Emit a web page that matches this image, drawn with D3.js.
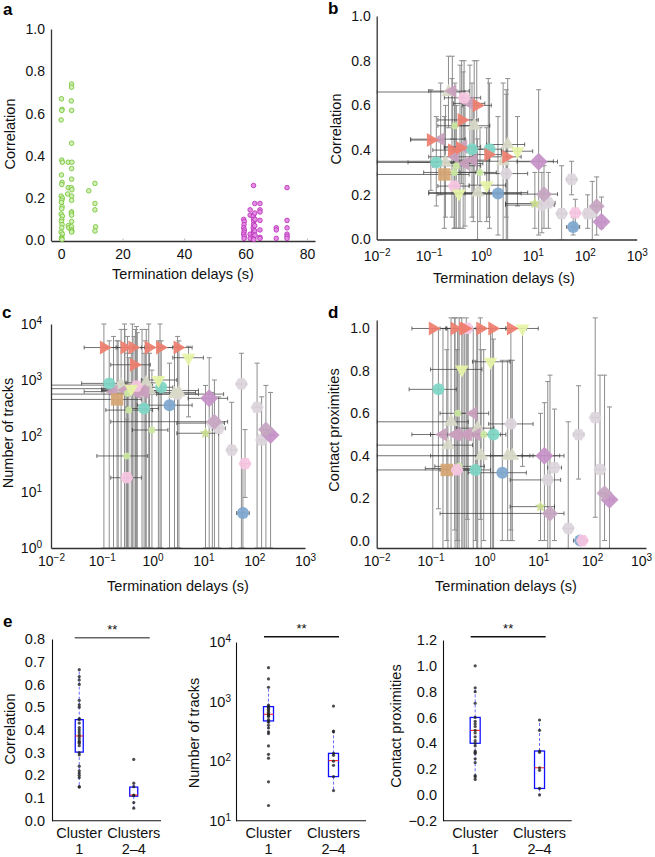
<!DOCTYPE html>
<html><head><meta charset="utf-8">
<script src="https://cdn.jsdelivr.net/npm/d3@7"></script>
<style>
body{margin:0;background:#fff;}
svg{display:block;font-family:"Liberation Sans",Arial,Helvetica,sans-serif;}
</style></head><body>
<svg id="fig" width="655" height="857"></svg>
<script>
// ================= DATA =================
// Panel a: termination delay (s) vs correlation
const aGreenX = [0.1,0.3,0.2,0.0,0.2,0.4,0.1,0.3,0.2,0.0,0.4,0.2,0.1,0.3,0.2,0.0,0.4,0.2,0.1,0.3,0.2,0.0,0.4,0.2,0.1,0.3,
  2.3,2.3,2.1,2.3,2.5,
  3.4,3.4,3.3,3.4,3.4,3.5,3.4,3.4,3.3,3.5,3.4,3.4,3.4,3.3,3.4,3.4,3.4,3.3,3.5,3.4,
  9.0, 11,11,11,11.2,11];
const aGreenY = [0.67,0.62,0.615,0.57,0.38,0.37,0.31,0.275,0.265,0.21,0.2,0.19,0.18,0.16,0.15,0.125,0.115,0.1,0.09,0.075,0.06,0.04,0.03,0.015,0.01,0.005,
  0.37,0.25,0.22,0.07,0.06,
  0.74,0.725,0.66,0.615,0.46,0.37,0.34,0.29,0.25,0.24,0.21,0.19,0.135,0.13,0.12,0.09,0.065,0.05,0.045,0.04,
  0.235, 0.27,0.175,0.145,0.065,0.045];
const aMagX = [59.4,59.6,59.5,59.4,59.6,59.5,59.4,59.6,59.5,
  61.5,61.5,61.5,61.5,
  62.6,62.6,62.5,62.6,62.7,62.6,62.5,62.6,62.7,62.6,62.5,62.6,62.7,
  63.0,63.0,63.1,63.0,63.0,63.1,
  64.7,64.7,64.7,64.7,64.7,64.7,64.7,
  70,70,70, 73.5,73.5,73.5,73.5,73.5,73.5];
const aMagY = [0.1,0.09,0.075,0.06,0.05,0.04,0.03,0.02,0.01,
  0.145,0.12,0.03,0.01,
  0.26,0.12,0.115,0.1,0.09,0.075,0.06,0.05,0.04,0.03,0.02,0.01,0.005,
  0.175,0.13,0.1,0.07,0.045,0.025,
  0.175,0.145,0.135,0.095,0.05,0.015,0.01,
  0.06,0.05,0.01, 0.25,0.095,0.06,0.03,0.02,0.01];

// Panels b-d: one entry per condition (marker group), shared termination delays
const entGroup = [
  'hexGrey','hexGrey','hexGrey','hexGrey','hexGrey','hexGrey','hexGrey',
  'triUpGrey','triUpGrey','triUpGrey','triUpGrey','triUpGrey','triUpGrey',
  'triLeftMauve','triLeftMauve','triLeftMauve','triLeftMauve','triLeftMauve','triLeftMauve','triLeftMauve',
  'dotGreen','dotGreen','dotGreen','dotGreen',
  'squareTan',
  'circleTeal','circleTeal','circleTeal',
  'circleBlue','circleBlue',
  'hexPink','hexPink','hexPink',
  'triDownYellow','triDownYellow','triDownYellow',
  'triRightRed','triRightRed','triRightRed','triRightRed','triRightRed','triRightRed','triRightRed',
  'diamondPurple','diamondPurple',
  'diamondMauve','diamondMauve',
  'star'];
const delay   = [3.1,56,15,20,36,114,140, 0.24,0.75,3.3,0.21,0.87,2.7, 0.285,0.62,0.17,0.46,0.32,0.50,0.72, 0.32,0.34,0.97,0.31, 0.2, 0.14,0.68,1.48, 2.15,60, 0.48,0.31,66, 5.1,1.3,0.38, 0.11,0.28,0.40,0.43,0.84,1.4,3.1, 13,210, 16.5,170, 11];
const delayLo = [1.2,45,3,15,30,100,120, 0.01,0.3,1.3,0.01,0.1,0.01, 0.1,0.3,0.045,0.2,0.1,0.2,0.35, 0.15,0.12,0.4,0.08, 0.01, 0.04,0.3,0.8, 0.5,45, 0.2,0.15,55, 2.5,0.6,0.1, 0.045,0.12,0.2,0.15,0.45,0.7,1.3, 5,180, 0.15,150, 3];
const delayHi = [8,70,26,27,44,130,165, 0.5,1.5,7,0.6,8,25, 0.6,1.2,0.5,1,0.8,1.1,1.5, 0.7,1,2,0.8, 0.6, 0.3,1.3,2.5, 6,80, 1,0.6,80, 10,3,0.9, 0.19,0.6,0.8,0.9,1.6,2.5,6, 30,250, 30,200, 20];

const corr   = [0.295,0.269,0.154,0.164,0.116,0.116,0.12, 0.66,0.509,0.425,0.345,0.21,0.35, 0.664,0.609,0.449,0.415,0.37,0.34,0.355, 0.509,0.33,0.30,0.30, 0.291, 0.345,0.404,0.404, 0.206,0.056, 0.634,0.239,0.119, 0.395,0.243,0.206, 0.445,0.40,0.41,0.535,0.60,0.38,0.37, 0.348,0.079, 0.203,0.149, 0.161];
const corrLo = [0,0.2,0.03,0.05,0,0.05,0, 0.5,0.2,0,0.1,0,0, 0.45,0.3,0.2,0.05,0.05,0.06,0.08, 0.3,0.05,0.08,0.05, 0.05, 0.15,0.1,0.05, 0.02,0.02, 0.45,0.05,0.05, 0.15,0.08,0.05, 0.22,0.1,0.05,0.25,0.3,0.1,0.1, 0.02,0.05, 0.05,0.02, 0.05];
const corrHi = [0.67,0.35,0.3,0.3,0.33,0.2,0.26, 0.82,0.8,0.72,0.6,0.45,0.7, 0.82,0.78,0.7,0.75,0.67,0.62,0.62, 0.7,0.6,0.5,0.6, 0.55, 0.55,0.7,0.7, 0.55,0.1, 0.8,0.45,0.18, 0.55,0.5,0.4, 0.67,0.72,0.78,0.8,0.8,0.72,0.65, 0.67,0.19, 0.33,0.28, 0.3];

const tracks   = [560,850,170,137,56,325,85, 810,890,600,700,650,560, 660,640,620,620,660,600,600, 580,290,128,44, 450, 870,310,740, 355,4.2, 780,18,32, 2500,1000,700, 3800,3800,3800,1870,3800,3800,3800, 470,104, 180,131, 112];
const tracksLo = [1,1,1,1,1,1,1, 1,1,1,1,1,1, 1,1,1,1,1,1,1, 1,1,1,1, 1, 1,1,1, 1,1, 1,1,8, 220,1,1, 1,1,1,1,1,1,1, 1,1, 1,1, 1];
const tracksHi = [4000,3000,600,500,400,2000,500, 8000,8000,5000,5000,3000,4000, 8000,8000,6000,8000,6000,7000,5000, 3000,2500,1500,500, 5000, 5000,3000,5000, 2000,30, 9000,200,130, 4000,5000,3000, 10000,10000,10000,6000,10000,10000,6000, 2500,600, 1000,800, 800];

const prox   = [0.55,0.50,0.286,0.344,0.058,0.58,0.336, 0.56,0.53,0.40,0.45,0.40,0.40, 0.5,0.6,0.5,0.5,0.5,0.5,0.5, 0.6,0.35,0.5,0.34, 0.333, 0.713,0.333,0.5, 0.32,0.0, 1.0,0.333,0.0, 1.0,0.843,0.807, 1.0,1.0,1.0,1.0,1.0,1.0,1.0, 0.40,0.192, 0.128,0.223, 0.16];
const proxLo = [0,0.29,-0.05,0,-0.05,0.11,-0.05, -0.05,-0.05,0,-0.05,-0.05,0, -0.05,-0.05,-0.05,-0.05,0,-0.05,-0.05, -0.05,-0.05,0,-0.05, 0, 0.15,0,-0.05, 0,0, 0.1,0,0, 0.35,-0.05,-0.05, -0.05,0.05,-0.05,-0.05,0.1,-0.05,0.05, 0,-0.05, -0.05,0, 0];
const proxHi = [0.85,0.73,0.75,0.62,0.56,1.05,0.78, 1.05,1,0.85,1,0.9,0.85, 1.05,1,1,1.05,1,1,1, 1,1.05,0.9,0.9, 0.9, 1,0.85,0.95, 0.85,0, 1,0.9,0, 1,1,1.05, 1,1.05,1,1,1.05,1,1, 0.65,0.63, 0.78,0.78, 0.6];

// Panel e: box plots
const boxCats = ['Cluster 1','Clusters 2\u20134'];
const eCorr1 = [0.665,0.635,0.62,0.6,0.53,0.51,0.5,0.45,0.445,0.43,0.41,0.40,0.39,0.38,0.37,0.36,0.35,0.345,0.34,0.33,0.30,0.29,0.24,0.22,0.21,0.2,0.19,0.15,0.148];
const eCorr2 = [0.27,0.165,0.15,0.113,0.11,0.08,0.055];
const eTracks1 = [3700,2400,1740,870,820,780,740,700,660,620,600,580,560,500,470,450,400,360,310,290,180,130,112,45,18];
const eTracks2 = [840,320,310,135,125,100,85,55,32];
const eProx1 = [1.0,0.83,0.8,0.71,0.6,0.57,0.55,0.53,0.5,0.48,0.45,0.42,0.4,0.38,0.34,0.33,0.32,0.28,0.25,0.15,0.14,0.12];
const eProx2 = [0.58,0.5,0.34,0.33,0.21,0.19,0.05,0.0];
// [lower whisker, q1, median, q3, upper whisker]
const corrBox   = [[0.15,0.302,0.373,0.445,0.665],[0.055,0.108,0.113,0.148,0.165]];
const tracksBox = [[295,473,612,822,1740],[32,55,102,135,320]];
const proxBox   = [[0.12,0.40,0.50,0.60,0.83],[0.0,0.05,0.21,0.34,0.58]];

// ================= DRAWING =================
const FONT = '"Liberation Sans", Arial, Helvetica, sans-serif';
const TICK = 14, TITLE = 14.5;
const svg = d3.select('#fig');

const style = {
  hexGrey:{shape:'hex', r:6.5, fill:'#ddd6dd'},
  triUpGrey:{shape:'triUp', r:8, fill:'#d9d9c8'},
  triLeftMauve:{shape:'triLeft', r:8, fill:'#c99fbd'},
  dotGreen:{shape:'circle', r:3.5, fill:'#cbe8a2'},
  squareTan:{shape:'square', r:6.2, fill:'#d6a674'},
  circleTeal:{shape:'circle', r:6, fill:'#7fd6c6'},
  circleBlue:{shape:'circle', r:6, fill:'#7ea7cf'},
  hexPink:{shape:'hex', r:6.5, fill:'#f7c6e1'},
  triDownYellow:{shape:'triDown', r:8, fill:'#e6f4a6'},
  triRightRed:{shape:'triRight', r:8, fill:'#ef7f70'},
  diamondPurple:{shape:'diamond', r:9, fill:'#c592c7'},
  diamondMauve:{shape:'diamond', r:8, fill:'#c6a6c2'},
  star:{shape:'star', r:6, fill:'#c9db8f'}
};

function poly(n, r, rot){
  const pts = d3.range(n).map(i => { const a = rot + i*2*Math.PI/n; return [r*Math.cos(a), r*Math.sin(a)]; });
  return 'M' + pts.map(p => p[0].toFixed(2)+','+p[1].toFixed(2)).join('L') + 'Z';
}
function starPath(r){
  const pts = d3.range(10).map(i => { const a = -Math.PI/2 + i*Math.PI/5; const rr = i%2 ? r*0.45 : r; return [rr*Math.cos(a), rr*Math.sin(a)]; });
  return 'M' + pts.map(p => p[0].toFixed(2)+','+p[1].toFixed(2)).join('L') + 'Z';
}
function shapePath(s){
  switch(s.shape){
    case 'circle': return d3.symbol(d3.symbolCircle, Math.PI*s.r*s.r)();
    case 'hex': return poly(6, s.r, 0);
    case 'triUp': return poly(3, s.r, -Math.PI/2);
    case 'triDown': return poly(3, s.r, Math.PI/2);
    case 'triLeft': return poly(3, s.r, Math.PI);
    case 'triRight': return poly(3, s.r, 0);
    case 'square': return poly(4, s.r*Math.SQRT2, Math.PI/4);
    case 'diamond': return poly(4, s.r, 0);
    case 'star': return starPath(s.r);
  }
}

function letter(t, x, y){
  svg.append('text').attr('x', x).attr('y', y).attr('font-size', 17).attr('font-weight', 'bold')
    .attr('font-family', FONT).attr('fill', '#000').text(t);
}
function yTitle(t, x, y){
  svg.append('text').attr('transform', `translate(${x},${y}) rotate(-90)`).attr('text-anchor', 'middle')
    .attr('font-size', TITLE).attr('font-family', FONT).attr('fill', '#111').text(t);
}
function xTitle(t, x, y){
  svg.append('text').attr('x', x).attr('y', y).attr('text-anchor', 'middle')
    .attr('font-size', TITLE).attr('font-family', FONT).attr('fill', '#111').text(t);
}
function styleAxis(g, col, w, fs){
  g.attr('font-family', FONT).attr('font-size', fs || TICK);
  g.select('.domain').attr('stroke', col || '#333').attr('stroke-width', w || 1.3);
  g.selectAll('.tick text').attr('fill', '#111');
  g.selectAll('.tick line').attr('stroke', '#bbb');
}
function supTicks(g){
  g.selectAll('.tick text').each(function(d){
    const e = Math.round(Math.log10(d));
    const t = d3.select(this); t.text(null);
    t.append('tspan').text('10');
    t.append('tspan').attr('dy', '-0.5em').attr('font-size', '10px').text(e < 0 ? '\u2212' + (-e) : String(e));
  });
}

// ---------- Panel a ----------
(function(){
  const x = d3.scaleLinear().domain([-3.3, 82.6]).range([51, 315]);
  const y = d3.scaleLinear().domain([0, 1]).range([240.5, 29]);
  const gx = svg.append('g').attr('transform', 'translate(0,241)')
    .call(d3.axisBottom(x).tickValues([0,20,40,60,80]).tickSizeInner(-2.5).tickSizeOuter(0).tickPadding(8));
  styleAxis(gx);
  const gy = svg.append('g').attr('transform', 'translate(51,0)')
    .call(d3.axisLeft(y).tickValues([0,0.2,0.4,0.6,0.8,1.0]).tickFormat(d3.format('.1f')).tickSize(0).tickPadding(6));
  styleAxis(gy);
  svg.append('g').selectAll('circle').data(d3.range(aGreenX.length)).join('circle')
    .attr('cx', i => x(aGreenX[i])).attr('cy', i => y(aGreenY[i])).attr('r', 2.3)
    .attr('fill', '#d2efb5').attr('stroke', '#6fc22e').attr('stroke-width', 0.8);
  svg.append('g').selectAll('circle').data(d3.range(aMagX.length)).join('circle')
    .attr('cx', i => x(aMagX[i])).attr('cy', i => y(aMagY[i])).attr('r', 2.3)
    .attr('fill', '#e58ae5').attr('stroke', '#b52fb5').attr('stroke-width', 0.8);
  yTitle('Correlation', 14.5, 134);
  xTitle('Termination delays (s)', 183, 279);
  letter('a', 3, 15);
})();

// ---------- Panels b, c, d ----------
function scatterPanel(o){
  const x = d3.scaleLog().domain([0.01, 1000]).range([o.x0, o.x1]);
  const y = o.y;
  const [yb, yt] = y.range();
  const cid = 'clip-' + o.id;
  svg.append('clipPath').attr('id', cid).append('rect')
    .attr('x', o.x0).attr('y', yt - 10).attr('width', o.x1 - o.x0).attr('height', yb - yt + 10);
  const idx = d3.range(delay.length);
  const eb = svg.append('g').attr('clip-path', `url(#${cid})`);
  // vertical error bars
  const vb = eb.append('g').attr('stroke', '#7a7a7a').attr('stroke-width', 1).attr('opacity', 0.85);
  idx.forEach(i => {
    const X = x(delay[i]), y1 = y(o.lo[i]), y2 = y(o.hi[i]);
    vb.append('line').attr('x1', X).attr('x2', X).attr('y1', y1).attr('y2', y2);
    vb.append('line').attr('x1', X-2.5).attr('x2', X+2.5).attr('y1', y1).attr('y2', y1);
    vb.append('line').attr('x1', X-2.5).attr('x2', X+2.5).attr('y1', y2).attr('y2', y2);
  });
  // horizontal error bars
  const hb = eb.append('g').attr('stroke', '#3a3a3a').attr('stroke-width', 0.8).attr('opacity', 0.9);
  idx.forEach(i => {
    const Y = y(o.val[i]), x1 = x(delayLo[i]), x2 = x(delayHi[i]);
    hb.append('line').attr('x1', x1).attr('x2', x2).attr('y1', Y).attr('y2', Y);
    hb.append('line').attr('x1', x1).attr('x2', x1).attr('y1', Y-2).attr('y2', Y+2);
    hb.append('line').attr('x1', x2).attr('x2', x2).attr('y1', Y-2).attr('y2', Y+2);
  });
  // markers
  svg.append('g').selectAll('path').data(idx).join('path')
    .attr('transform', i => `translate(${x(delay[i])},${y(o.val[i])})`)
    .attr('d', i => shapePath(style[entGroup[i]]))
    .attr('fill', i => style[entGroup[i]].fill)
    .attr('fill-opacity', 0.93);
  // axes
  const gx = svg.append('g').attr('transform', `translate(0,${yb})`)
    .call(d3.axisBottom(x).tickValues([0.01,0.1,1,10,100,1000]).tickSize(0).tickSizeOuter(0).tickPadding(o.xpad));
  styleAxis(gx); supTicks(gx);
  if (o.lastShift) gx.selectAll('.tick text').filter(d => d === 1000).attr('dx', o.lastShift);
  const ya = d3.axisLeft(y).tickValues(o.yticks).tickSize(0).tickPadding(o.ypad);
  if (o.yfmt) ya.tickFormat(o.yfmt);
  const gy = svg.append('g').attr('transform', `translate(${o.x0},0)`).call(ya);
  styleAxis(gy);
  if (o.ylog) supTicks(gy);
}

scatterPanel({id:'b', x0:376.7, x1:636.7, y:d3.scaleLinear().domain([0,1]).range([239.5,16]),
  val:corr, lo:corrLo, hi:corrHi, yticks:[0,0.2,0.4,0.6,0.8,1.0], yfmt:d3.format('.1f'), xpad:12, ypad:6});
yTitle('Correlation', 341, 129);
xTitle('Termination delays (s)', 504, 283);
letter('b', 328, 14);

scatterPanel({id:'c', x0:51, x1:305, y:d3.scaleLog().domain([1,10000]).range([548,324]),
  val:tracks, lo:tracksLo, hi:tracksHi, yticks:[1,10,100,1000,10000], ylog:true, xpad:8, ypad:9});
yTitle('Number of tracks', 12.5, 433);
xTitle('Termination delays (s)', 178, 591);
letter('c', 2, 318);

scatterPanel({id:'d', x0:376.7, x1:646, y:d3.scaleLinear().domain([-0.035,1.04]).range([548,320]),
  val:prox, lo:proxLo, hi:proxHi, yticks:[0,0.2,0.4,0.6,0.8,1.0], yfmt:d3.format('.1f'), xpad:8, ypad:7, lastShift:-5});
yTitle('Contact proximities', 338.5, 430);
xTitle('Termination delays (s)', 506, 591);
letter('d', 328, 318);

// ---------- Panel e ----------
function boxPanel(o){
  const x = d3.scalePoint().domain(boxCats).range([o.x0, o.x1]).padding(0.5);
  const y = o.y;
  const [yb, yt] = y.range();
  const ya = d3.axisLeft(y).tickValues(o.yticks).tickSize(0).tickPadding(o.ypad);
  if (o.yfmt) ya.tickFormat(o.yfmt);
  const gy = svg.append('g').attr('transform', `translate(${o.x0},0)`).call(ya);
  styleAxis(gy, '#111', 1.1, TITLE);
  if (o.ylog) supTicks(gy);
  svg.append('line').attr('x1', o.x0).attr('x2', o.x1).attr('y1', yb).attr('y2', yb)
    .attr('stroke', '#111').attr('stroke-width', 1.1);
  // category labels
  boxCats.forEach(c => {
    const parts = c.split(' ');
    const t = svg.append('text').attr('text-anchor', 'middle').attr('font-size', TITLE).attr('font-family', FONT).attr('fill', '#111');
    t.append('tspan').attr('x', x(c)).attr('y', 838).text(parts[0]);
    t.append('tspan').attr('x', x(c)).attr('y', 853.5).text(parts[1]);
  });
  const g = svg.append('g');
  [0,1].forEach(k => {
    const cx = x(boxCats[k]), s = o.stats[k], w = o.bw;
    g.append('line').attr('x1', cx).attr('x2', cx).attr('y1', y(s[3])).attr('y2', y(s[4]))
      .attr('stroke', '#5c5cff').attr('stroke-width', 0.9).attr('stroke-dasharray', '3,2');
    g.append('line').attr('x1', cx).attr('x2', cx).attr('y1', y(s[1])).attr('y2', y(s[0]))
      .attr('stroke', '#5c5cff').attr('stroke-width', 0.9).attr('stroke-dasharray', '3,2');
    g.append('rect').attr('x', cx - w/2).attr('y', y(s[3])).attr('width', w).attr('height', y(s[1]) - y(s[3]))
      .attr('fill', 'none').attr('stroke', '#1010ff').attr('stroke-width', 1.3);
    g.append('line').attr('x1', cx - w/2).attr('x2', cx + w/2).attr('y1', y(s[2])).attr('y2', y(s[2]))
      .attr('stroke', '#ff1a1a').attr('stroke-width', 1);
    const pts = k === 0 ? o.p1 : o.p2;
    g.selectAll(null).data(pts).join('circle')
      .attr('cx', cx).attr('cy', d => y(d)).attr('r', 1.6).attr('fill', '#222').attr('opacity', 0.8);
  });
  // significance bar
  const bx = x(boxCats[0]) - 4.5;
  svg.append('line').attr('x1', bx).attr('x2', bx + 75).attr('y1', o.sigY).attr('y2', o.sigY)
    .attr('stroke', o.sigCol).attr('stroke-width', 1.5);
  svg.append('text').attr('x', bx + 37.5).attr('y', o.sigY - 4).attr('text-anchor', 'middle')
    .attr('font-size', 13).attr('font-family', FONT).attr('fill', '#111').text('**');
}

boxPanel({x0:52, x1:161, y:d3.scaleLinear().domain([0,0.8]).range([820.7,639]),
  yticks:[0,0.1,0.2,0.3,0.4,0.5,0.6,0.7,0.8], yfmt:d3.format('.1f'), ypad:7, bw:8,
  stats:corrBox, p1:eCorr1, p2:eCorr2, sigY:637.7, sigCol:'#666'});
yTitle('Correlation', 14.5, 729);
letter('e', 3, 627);

boxPanel({x0:236, x1:366, y:d3.scaleLog().domain([10,10000]).range([820.7,642]),
  yticks:[10,100,1000,10000], ylog:true, ypad:5, bw:10,
  stats:tracksBox, p1:eTracks1, p2:eTracks2, sigY:636.7, sigCol:'#111'});
yTitle('Number of tracks', 198.5, 733);

boxPanel({x0:443, x1:571.7, y:d3.scaleLinear().domain([-0.2,1.2]).range([820.7,640]),
  yticks:[-0.2,0,0.2,0.4,0.6,0.8,1.0,1.2], yfmt:d3.format('.1f'), ypad:6, bw:10,
  stats:proxBox, p1:eProx1, p2:eProx2, sigY:636.7, sigCol:'#111'});
yTitle('Contact proximities', 400.5, 726);
</script>
</body></html>
